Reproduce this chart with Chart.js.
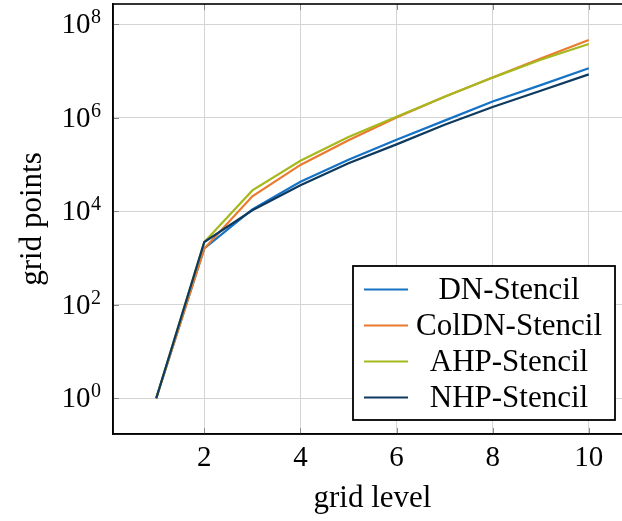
<!DOCTYPE html>
<html>
<head>
<meta charset="utf-8">
<script src="https://cdn.jsdelivr.net/npm/chart.js@4/dist/chart.umd.min.js"></script>
<style>
  html, body { margin: 0; padding: 0; background: #fff; overflow: hidden; }
  #wrap { width: 622px; height: 521px; overflow: hidden; }
  canvas { display: block; }
</style>
</head>
<body>
<div id="wrap"><canvas id="c" width="640" height="521"></canvas></div>
<script>
// ---- data ----
const gridLevels = [1, 2, 3, 4, 5, 6, 7, 8, 9, 10];
const seriesNames = ['DN-Stencil', 'ColDN-Stencil', 'AHP-Stencil', 'NHP-Stencil'];
const dnStencil    = [1, 1600, 11000, 43000, 126000, 340000, 870000, 2240000, 5000000, 11500000];
const colDnStencil = [1, 1600, 21000, 98000, 331000, 1020000, 2820000, 7240000, 18600000, 46200000];
const ahpStencil   = [1, 2200, 28000, 120000, 390000, 1050000, 2820000, 7240000, 17400000, 38000000];
const nhpStencil   = [1, 2200, 10500, 36000, 107000, 270000, 710000, 1700000, 3800000, 8500000];
const xTicks = [2, 4, 6, 8, 10];
const yTicks = [1, 1e2, 1e4, 1e6, 1e8];
const xTitle = 'grid level';
const yTitle = 'grid points';

const colors = ['#1672c4', '#ea7a2e', '#a6b91c', '#0e3a5f'];
const FONT = "'Liberation Serif', 'Times New Roman', serif";

function mk(name, vals, i) {
  return {
    label: name,
    data: gridLevels.map((x, k) => ({ x: x, y: vals[k] })),
    borderColor: colors[i],
    backgroundColor: colors[i],
    borderWidth: 2.2,
    pointRadius: 0,
    tension: 0,
    fill: false,
    order: 4 - i
  };
}

const framePlugin = {
  id: 'frame',
  afterDatasetsDraw(chart) {
    const ctx = chart.ctx, a = chart.chartArea;
    const xs = chart.scales.x, ys = chart.scales.y;
    ctx.save();
    // inner tick marks
    ctx.strokeStyle = '#8a8a8a';
    ctx.lineWidth = 1;
    ctx.beginPath();
    xTicks.forEach(v => {
      const px = Math.round(xs.getPixelForValue(v)) + 0.5;
      ctx.moveTo(px, a.top); ctx.lineTo(px, a.top + 6);
      ctx.moveTo(px, a.bottom); ctx.lineTo(px, a.bottom - 6);
    });
    yTicks.forEach(v => {
      const py = Math.round(ys.getPixelForValue(v)) + 0.5;
      ctx.moveTo(a.left, py); ctx.lineTo(a.left + 6, py);
      ctx.moveTo(a.right, py); ctx.lineTo(a.right - 6, py);
    });
    ctx.stroke();
    // frame
    ctx.strokeStyle = '#000';
    ctx.lineWidth = 1.6;
    ctx.strokeRect(a.left, a.top, a.right - a.left, a.bottom - a.top);

    // y tick labels 10^n
    ctx.fillStyle = '#000';
    ctx.textBaseline = 'alphabetic';
    yTicks.forEach(v => {
      const py = ys.getPixelForValue(v);
      const e = String(Math.round(Math.log10(v)));
      ctx.font = '20px ' + FONT;
      const ew = ctx.measureText(e).width;
      const rightX = a.left - 12;
      ctx.textAlign = 'right';
      ctx.fillText(e, rightX, py - 1);
      ctx.font = '29px ' + FONT;
      ctx.fillText('10', rightX - ew - 0.5, py + 9);
    });

    // legend
    const L = { left: 353, top: 266, right: 615, bottom: 420 };
    ctx.fillStyle = '#fff';
    ctx.fillRect(L.left, L.top, L.right - L.left, L.bottom - L.top);
    ctx.strokeStyle = '#000';
    ctx.lineWidth = 1.8;
    ctx.strokeRect(L.left, L.top, L.right - L.left, L.bottom - L.top);
    const ds = chart.data.datasets;
    ctx.font = '31px ' + FONT;
    ctx.textAlign = 'center';
    ctx.textBaseline = 'middle';
    ds.forEach((d, i) => {
      const yy = L.top + 23.5 + i * 36;
      ctx.strokeStyle = d.borderColor;
      ctx.lineWidth = 2.2;
      ctx.beginPath();
      ctx.moveTo(364, yy); ctx.lineTo(408, yy);
      ctx.stroke();
      ctx.fillStyle = '#000';
      ctx.fillText(d.label, 509, yy + 1);
    });
    ctx.restore();
  }
};

new Chart(document.getElementById('c'), {
  type: 'line',
  data: {
    datasets: [
      mk(seriesNames[0], dnStencil, 0),
      mk(seriesNames[1], colDnStencil, 1),
      mk(seriesNames[2], ahpStencil, 2),
      mk(seriesNames[3], nhpStencil, 3)
    ]
  },
  options: {
    responsive: false,
    animation: false,
    layout: { padding: { top: 4, right: 8, left: 0, bottom: 0 } },
    plugins: { legend: { display: false }, tooltip: { enabled: false } },
    scales: {
      x: {
        type: 'linear',
        min: 0.1,
        max: 10.9,
        afterBuildTicks: s => { s.ticks = xTicks.map(v => ({ value: v })); },
        afterFit: s => { s.height = 87; },
        grid: { color: '#d4d4d4', lineWidth: 1, drawTicks: false },
        border: { display: true, color: '#000', width: 1.6 },
        ticks: {
          color: '#000',
          font: { family: FONT, size: 29 },
          padding: 7,
          maxRotation: 0,
          autoSkip: false,
          callback: v => String(v)
        },
        title: {
          display: true,
          text: xTitle,
          color: '#000',
          font: { family: FONT, size: 31 },
          padding: { top: 0, bottom: 4 }
        }
      },
      y: {
        type: 'logarithmic',
        min: Math.pow(10, -0.764),
        max: Math.pow(10, 8.434),
        afterBuildTicks: s => { s.ticks = yTicks.map(v => ({ value: v })); },
        afterFit: s => { s.width = 113; },
        grid: { color: '#d4d4d4', lineWidth: 1, drawTicks: false },
        border: { display: true, color: '#000', width: 1.6 },
        ticks: { display: false },
        title: {
          display: true,
          text: yTitle,
          color: '#000',
          font: { family: FONT, size: 31 },
          padding: { top: 14, bottom: 0 }
        }
      }
    }
  },
  plugins: [framePlugin]
});
</script>
</body>
</html>
